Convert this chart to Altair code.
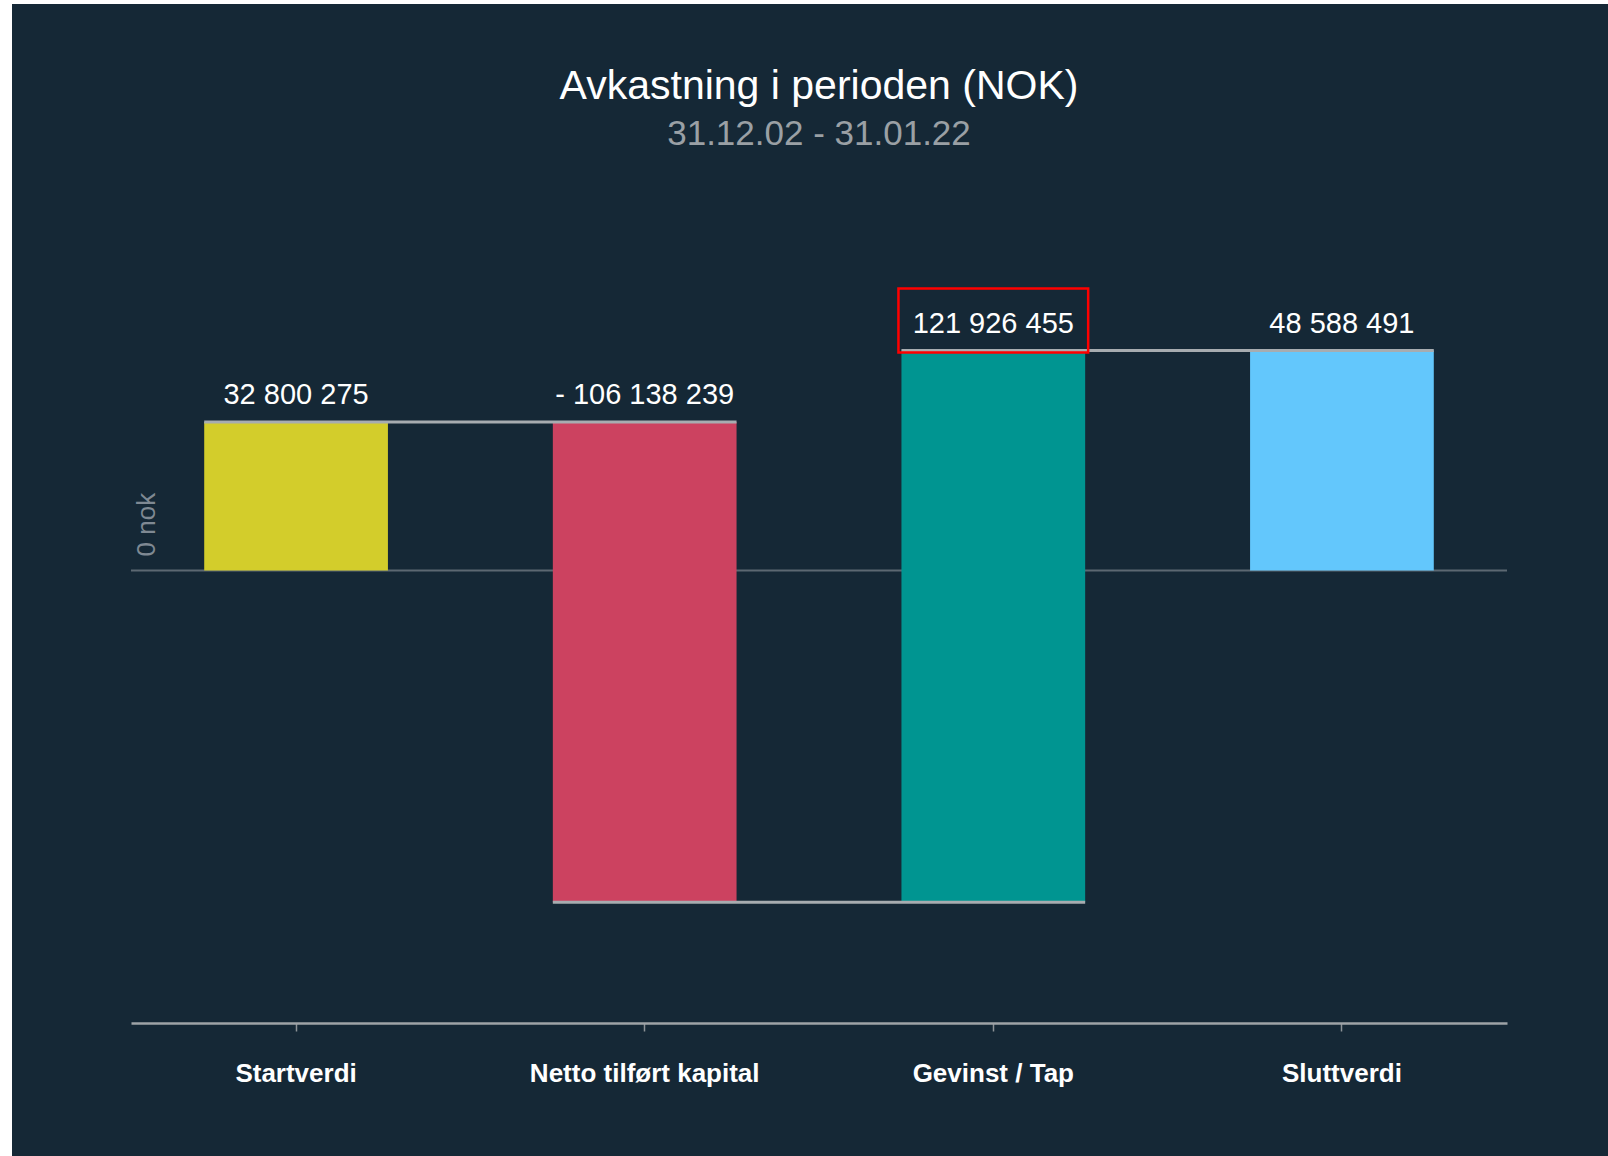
import altair as alt
import pandas as pd

# ---- data ----
categories = ["Startverdi", "Netto tilført kapital", "Gevinst / Tap", "Sluttverdi"]
amounts = [32800275, -106138239, 121926455, 48588491]
value_labels = ["32 800 275", "- 106 138 239", "121 926 455", "48 588 491"]
bar_colors = ["#d3cd2b", "#cc4260", "#009591", "#63c7fc"]
title_text = "Avkastning i perioden (NOK)"
subtitle_text = "31.12.02 - 31.01.22"
zero_label = "0 nok"
highlight_category = "Gevinst / Tap"

# waterfall: first and last bars start at 0, middle ones float
starts, ends = [], []
running = 0
for i, a in enumerate(amounts):
    if i == 0 or i == len(amounts) - 1:
        starts.append(0)
        ends.append(a)
        running = a
    else:
        starts.append(running)
        running += a
        ends.append(running)

bars_df = pd.DataFrame({
    "cat": categories,
    "start": starts,
    "end": ends,
    "top": [max(s, e) for s, e in zip(starts, ends)],
    "label": value_labels,
})
conn_df = pd.DataFrame({
    "cat": categories[:-1],
    "next": categories[1:],
    "level": ends[:-1],
})
hl_idx = categories.index(highlight_category)
hl_df = pd.DataFrame({"cat": [highlight_category], "top": [bars_df["top"][hl_idx]]})
zero_df = pd.DataFrame({"z": [0], "t": [zero_label]})
bg_df = pd.DataFrame({"a": [0]})

BG = "#152836"
PAD = {"left": 131, "top": 231, "right": 101, "bottom": 133}
W, H = 1376, 792

x_scale = alt.Scale(domain=categories, paddingInner=0.473, paddingOuter=0.21)
y_scale = alt.Scale(domain=[-100e6, 75e6], nice=False, zero=False)

background = alt.Chart(bg_df).mark_rect(fill=BG).encode(
    x=alt.value(12 - PAD["left"]),
    x2=alt.value(W + PAD["right"]),
    y=alt.value(4 - PAD["top"]),
    y2=alt.value(H + PAD["bottom"]),
)

zero_rule = alt.Chart(zero_df).mark_rule(color="#5c6872", strokeWidth=2).encode(
    y=alt.Y("z:Q", scale=y_scale, axis=None)
)

bars = alt.Chart(bars_df).mark_bar().encode(
    x=alt.X(
        "cat:N",
        scale=x_scale,
        sort=categories,
        axis=alt.Axis(
            title=None,
            labelAngle=0,
            labelFont="Liberation Sans",
            labelFontWeight="bold",
            labelFontSize=26,
            labelColor="#ffffff",
            labelPadding=29,
            labelLimit=0,
            domainColor="#9ea3a7",
            domainWidth=2.5,
            tickColor="#8c9297",
            tickWidth=1.5,
            tickSize=8,
            grid=False,
            zindex=2,
        ),
    ),
    y=alt.Y("start:Q", scale=y_scale, axis=None),
    y2="end:Q",
    color=alt.Color("cat:N", scale=alt.Scale(domain=categories, range=bar_colors), legend=None),
)

connectors = alt.Chart(conn_df).mark_rule(color="#a7acb0", strokeWidth=3).encode(
    x=alt.X("cat:N", bandPosition=0, sort=categories, title=None),
    x2=alt.X2("next:N", bandPosition=1),
    y=alt.Y("level:Q", scale=y_scale, axis=None),
)

labels = alt.Chart(bars_df).mark_text(
    font="Liberation Sans", fontSize=29, color="#ffffff", baseline="alphabetic", dy=-18
).encode(
    x=alt.X("cat:N", sort=categories, title=None),
    y=alt.Y("top:Q", scale=y_scale, axis=None),
    text="label:N",
)

zero_text = alt.Chart(zero_df).mark_text(
    font="Liberation Sans", fontSize=26, color="#7f8993", angle=270,
    align="left", baseline="middle", dx=14,
).encode(
    x=alt.value(16),
    y=alt.Y("z:Q", scale=y_scale, axis=None),
    text="t:N",
)

highlight = alt.Chart(hl_df).mark_rect(
    filled=False, stroke="#ff0000", strokeWidth=2.5,
    xOffset=-3, x2Offset=3, yOffset=2, y2Offset=-62,
).encode(
    x=alt.X("cat:N", bandPosition=0, sort=categories, title=None),
    x2=alt.X2("cat:N", bandPosition=1),
    y=alt.Y("top:Q", scale=y_scale, axis=None),
    y2="top:Q",
)

chart = alt.layer(
    background, zero_rule, bars, connectors, labels, zero_text, highlight
).properties(
    width=W,
    height=H,
    padding=PAD,
    autosize=alt.AutoSizeParams(type="none"),
    background="#ffffff",
    title=alt.TitleParams(
        text=title_text,
        subtitle=subtitle_text,
        color="#ffffff",
        font="Liberation Sans",
        fontSize=41,
        fontWeight="normal",
        subtitleColor="#9aa0a5",
        subtitleFont="Liberation Sans",
        subtitleFontSize=35,
        subtitlePadding=9,
        anchor="middle",
        frame="group",
        offset=-149,
    ),
).configure_view(stroke=None)

chart.save("out.html", embed_options={"renderer": "svg", "actions": False})
